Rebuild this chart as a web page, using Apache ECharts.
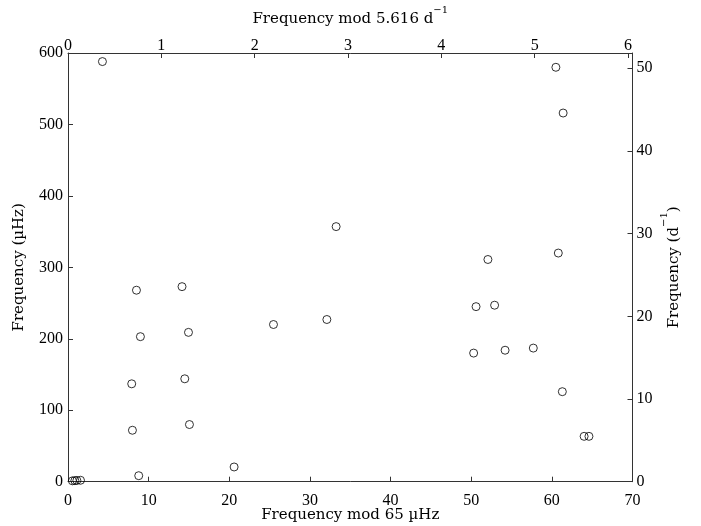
<!DOCTYPE html>
<html>
<head>
<meta charset="utf-8">
<script src="https://cdn.jsdelivr.net/npm/echarts@6/dist/echarts.min.js"></script>
<style>html,body{margin:0;padding:0;background:#fff}#c{width:701px;height:526px}</style>
</head>
<body>
<div id="c"></div>
<script>
// Frequency mod 65 µHz (x) and frequency in µHz (y)
const modFreq = [4.27, 60.5, 61.4, 33.25, 52.07, 60.8, 14.14, 8.49, 50.6, 52.9,
  25.48, 32.1, 14.94, 8.98, 50.3, 54.2, 57.7, 7.90, 14.48, 61.3,
  7.99, 15.06, 64.0, 64.6, 20.6, 8.77, 0.55, 0.85, 1.1, 1.55];
const freq = [588, 580, 516, 357, 311, 320, 273, 268, 245, 247,
  220, 227, 209, 203, 180, 184, 187, 137, 144, 126,
  72, 80, 63.5, 63.5, 20.6, 8.4, 1.2, 1.5, 1.8, 2.0];
const xTicks = [0, 10, 20, 30, 40, 50, 60, 70];
const yTicks = [0, 100, 200, 300, 400, 500, 600];
const UHZ_TO_CD = 0.0864; // 1 µHz in d^-1

const font = 'Liberation Serif';
const nameFont = 'DejaVu Serif';
const fs = 16;
const nfs = 15;
const axisCol = '#333';
const data = modFreq.map((x, i) => [x, freq[i]]);

const chart = echarts.init(document.getElementById('c'), null, {renderer: 'canvas'});
const common = {
  nameMoveOverlap: false,
  axisLine: {show: true, onZero: false, lineStyle: {color: axisCol, width: 1}},
  axisTick: {show: true, inside: true, length: 5, lineStyle: {color: axisCol}},
  splitLine: {show: false},
  axisLabel: {color: '#000', fontFamily: font, fontSize: fs},
  nameTextStyle: {color: '#000', fontFamily: nameFont, fontSize: nfs,
    rich: {
      n: {fontSize: nfs, fontFamily: nameFont, color: '#000', lineHeight: 22, verticalAlign: 'bottom'},
      sup: {fontSize: 10, fontFamily: nameFont, color: '#000', lineHeight: 10, verticalAlign: 'top'}
    }}
};
const intFmt = v => (Math.abs(v - Math.round(v)) < 1e-6 ? String(Math.round(v)) : '');
chart.setOption({
  backgroundColor: '#fff',
  animation: false,
  grid: {left: 68, right: 68.5, top: 53, bottom: 44.3, containLabel: false, outerBoundsMode: 'none'},
  xAxis: [
    Object.assign({}, common, {
      type: 'value', position: 'bottom', min: xTicks[0], max: xTicks[xTicks.length-1], interval: 10,
      name: 'Frequency mod 65 µHz', nameLocation: 'middle', nameGap: 26,
      axisLabel: Object.assign({}, common.axisLabel, {margin: 11})
    }),
    Object.assign({}, common, {
      type: 'value', position: 'top', min: 0, max: 70 * UHZ_TO_CD, interval: 1,
      name: '{n|Frequency mod 5.616 d}{sup|−1}', nameLocation: 'middle', nameGap: 26,
      axisLabel: Object.assign({}, common.axisLabel, {margin: -1, showMaxLabel: false, formatter: intFmt})
    })
  ],
  yAxis: [
    Object.assign({}, common, {
      type: 'value', position: 'left', min: yTicks[0], max: yTicks[yTicks.length-1], interval: 100,
      name: 'Frequency (µHz)', nameLocation: 'middle', nameGap: 41,
      axisLabel: Object.assign({}, common.axisLabel, {margin: 5})
    }),
    Object.assign({}, common, {
      type: 'value', position: 'right', min: 0, max: 600 * UHZ_TO_CD, interval: 10,
      name: '{n|Frequency (d}{sup|−1}{n|)}', nameLocation: 'middle', nameGap: 27, nameRotate: 90,
      axisLabel: Object.assign({}, common.axisLabel, {margin: 4, showMaxLabel: false, formatter: intFmt})
    })
  ],
  series: [{
    type: 'scatter', xAxisIndex: 0, yAxisIndex: 0, data: data,
    symbol: 'circle', symbolSize: 8,
    itemStyle: {color: 'rgba(0,0,0,0)', borderColor: '#000', borderWidth: 1},
    emphasis: {disabled: true}
  }]
});
</script>
</body>
</html>
